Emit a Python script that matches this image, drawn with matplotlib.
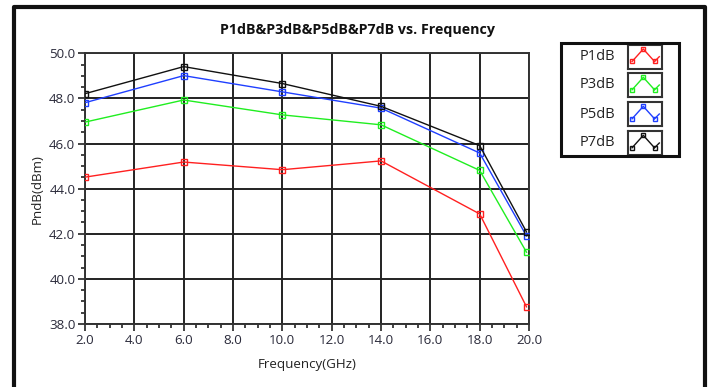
import matplotlib
matplotlib.use("Agg")
import matplotlib.pyplot as plt
from matplotlib.patches import Rectangle
from matplotlib.lines import Line2D
from matplotlib.ticker import MultipleLocator, FormatStrFormatter

plt.rcParams['font.family'] = ['Open Sans', 'DejaVu Sans']

freq = [2.0, 6.0, 10.0, 14.0, 18.0, 19.9]
p1db = [44.51, 45.18, 44.84, 45.23, 42.88, 38.76]
p3db = [46.95, 47.93, 47.27, 46.83, 44.81, 41.18]
p5db = [47.81, 49.01, 48.29, 47.57, 45.58, 41.90]
p7db = [48.21, 49.41, 48.66, 47.65, 45.91, 42.08]
series_names = ['P1dB', 'P3dB', 'P5dB', 'P7dB']
series_vals = [p1db, p3db, p5db, p7db]
colors = ['#ff2020', '#20ee20', '#1f3fff', '#111111']

W, H = 710, 387
fig = plt.figure(figsize=(W / 100, H / 100), dpi=100)
fig.patch.set_facecolor('white')

def fx(px):
    return px / W

def fy(py):
    return 1 - py / H

# outer frame (left, top, right)
fig.add_artist(Line2D([fx(13.5), fx(13.5), fx(705), fx(705)],
                      [fy(H + 5), fy(6.5), fy(6.5), fy(H + 5)],
                      color='#111111', lw=3, transform=fig.transFigure))

left, right, top, bottom = 85, 529, 53.3, 324
ax = fig.add_axes([fx(left), fy(bottom), fx(right - left), (bottom - top) / H])
ax.set_xlim(2.0, 20.0)
ax.set_ylim(38.0, 50.0)
for name, vals, c in zip(series_names, series_vals, colors):
    ax.plot(freq, vals, color=c, lw=1.0, marker='s', ms=5, mfc='none', mec=c, mew=1.0, zorder=3)

ax.xaxis.set_major_locator(MultipleLocator(2.0))
ax.xaxis.set_minor_locator(MultipleLocator(0.5))
ax.yaxis.set_major_locator(MultipleLocator(2.0))
ax.yaxis.set_minor_locator(MultipleLocator(0.5))
ax.xaxis.set_major_formatter(FormatStrFormatter('%.1f'))
ax.yaxis.set_major_formatter(FormatStrFormatter('%.1f'))
ax.grid(True, which='major', color='#222222', lw=1.4)
ax.tick_params(which='major', direction='out', length=5, width=1.2, color='#222222',
               labelsize=9.6, labelcolor='#2a2a3a', pad=2)
ax.tick_params(which='minor', direction='out', length=3, width=1.2, color='#222222')
for s in ax.spines.values():
    s.set_color('#333333')
    s.set_linewidth(1.4)
ax.set_xlabel('Frequency(GHz)', fontsize=9.6, color='#222222', labelpad=8)
ax.set_ylabel('PndB(dBm)', fontsize=9.6, color='#222222', labelpad=4)

fig.text(fx(357), fy(30), 'P1dB&P3dB&P5dB&P7dB vs. Frequency', ha='center', va='center',
         fontsize=10.3, fontweight='bold', color='#111111')

# legend
fig.add_artist(Rectangle((fx(561), fy(156)), fx(679 - 561), (156 - 43) / H, fill=False,
                         ec='#111111', lw=2.2, transform=fig.transFigure))
rows = [(44.7, 68.7), (73, 97), (102, 126), (131, 155)]
for (y0, y1), name, c in zip(rows, series_names, colors):
    fig.text(fx(597.5), fy((y0 + y1) / 2), name, ha='center', va='center', fontsize=10.5, color='#222222')
    iax = fig.add_axes([fx(628), fy(y1), fx(662 - 628), (y1 - y0) / H])
    iax.set_xlim(0, 1)
    iax.set_ylim(0, 1)
    iax.set_xticks([])
    iax.set_yticks([])
    for s in iax.spines.values():
        s.set_color('#333333')
        s.set_linewidth(1.5)
    iax.plot([0.12, 0.45, 0.78], [0.3, 0.82, 0.3], color=c, lw=1.0, marker='s', ms=3.5,
             mfc='none', mec=c, mew=1.0)
    iax.plot([0.78, 0.92], [0.3, 0.5], color=c, lw=1.0)

fig.savefig('out.png', dpi=100)
